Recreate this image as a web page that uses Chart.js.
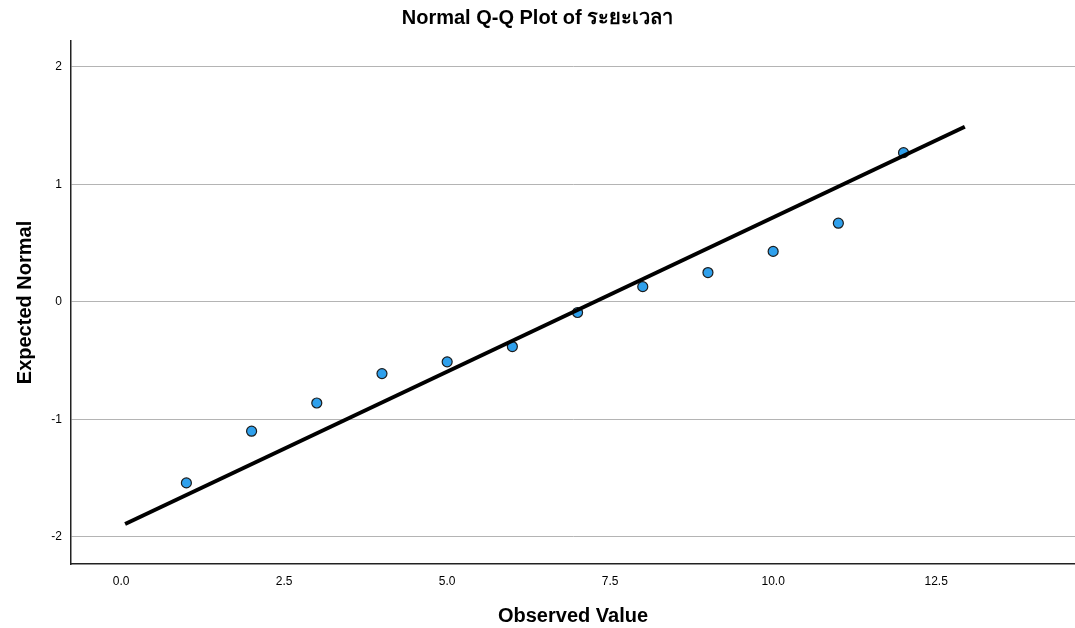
<!DOCTYPE html>
<html>
<head>
<meta charset="utf-8">
<script src="https://cdn.jsdelivr.net/npm/chart.js@4"></script>
<style>
  html, body { margin: 0; padding: 0; background: #fff; overflow: hidden; }
  canvas { display: block; }
</style>
</head>
<body>
<canvas id="qq" width="1075" height="628"></canvas>
<script>
const observed = [1, 2, 3, 4, 5, 6, 7, 8, 9, 10, 11, 12];
const expected = [-1.54, -1.10, -0.86, -0.61, -0.51, -0.38, -0.09, 0.13, 0.25, 0.43, 0.67, 1.27];
const lineX = [0.06, 12.94];
const lineY = [-1.89, 1.49];
const xTicks = [0, 2.5, 5, 7.5, 10, 12.5];
const yTicks = [-2, -1, 0, 1, 2];

const points = observed.map((x, i) => ({ x: x, y: expected[i] }));
const refLine = lineX.map((x, i) => ({ x: x, y: lineY[i] }));

const ctx = document.getElementById('qq').getContext('2d');
const chart = new Chart(ctx, {
    type: 'scatter',
    data: {
        datasets: [
            {
                label: 'Observed',
                data: points,
                pointRadius: 5,
                pointBackgroundColor: '#2fa0ec',
                pointBorderColor: '#1c1c1c',
                pointBorderWidth: 1.2,
                order: 2,
            },
            {
                label: 'Line',
                data: refLine,
                showLine: true,
                borderColor: '#000',
                borderWidth: 4,
                pointRadius: 0,
                order: 1,
            }
        ]
    },
    options: {
        responsive: false,
        animation: false,
        layout: { padding: 0, autoPadding: false },
        plugins: {
            legend: { display: false },
            tooltip: { enabled: false },
            title: {
                display: true,
                text: 'Normal Q-Q Plot of ระยะเวลา',
                color: '#000',
                font: { family: 'Liberation Sans, Arial, sans-serif', size: 20, weight: 'bold' },
                padding: { top: 6, bottom: 11 },
            }
        },
        scales: {
            x: {
                type: 'linear',
                min: -0.77,
                max: 14.63,
                afterBuildTicks: s => { s.ticks = xTicks.map(v => ({ value: v })); },
                afterFit: s => { s.height = 64; s.paddingRight = 0; s.paddingLeft = 0; },
                grid: { display: false, drawTicks: false },
                border: { display: true, color: '#222', width: 1.5 },
                ticks: {
                    padding: 10,
                    color: '#000',
                    font: { family: 'Liberation Sans Narrow, Liberation Sans, Arial', size: 12 },
                    callback: v => v.toFixed(1),
                },
                title: {
                    display: true,
                    text: 'Observed Value',
                    color: '#000',
                    font: { family: 'Liberation Sans, Arial, sans-serif', size: 20, weight: 'bold' },
                    padding: { top: 0, bottom: 0 },
                }
            },
            y: {
                min: -2.23,
                max: 2.22,
                afterBuildTicks: s => { s.ticks = yTicks.map(v => ({ value: v })); },
                afterFit: s => { s.width = 71; },
                grid: { color: '#b4b4b4', lineWidth: 1, drawTicks: false },
                border: { display: true, color: '#222', width: 1.5 },
                ticks: {
                    padding: 9,
                    color: '#000',
                    font: { family: 'Liberation Sans, Arial, sans-serif', size: 12 },
                    callback: v => String(v),
                },
                title: {
                    display: true,
                    text: 'Expected Normal',
                    color: '#000',
                    font: { family: 'Liberation Sans, Arial, sans-serif', size: 20, weight: 'bold' },
                    padding: { top: 13, bottom: 0 },
                }
            }
        }
    }
});
</script>
</body>
</html>
